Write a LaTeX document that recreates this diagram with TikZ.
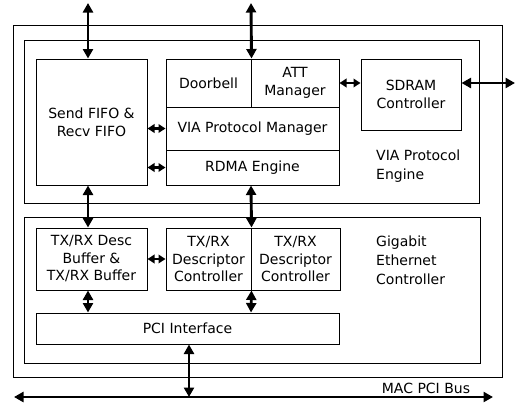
\documentclass[tikz,border=0pt]{standalone}
\usepackage{fontspec}
\setmainfont{DejaVu Sans}
\usetikzlibrary{arrows.meta,calc}
\tikzset{
 blk/.style={draw, line width=1pt, inner sep=0pt, align=center, font=\fontsize{14}{18}\selectfont},
 lbl/.style={inner sep=0pt, align=left, font=\fontsize{14}{19}\selectfont},
 bigarr/.style={line width=2.9pt, {Triangle[length=9.5pt,width=10pt]}-{Triangle[length=9.5pt,width=10pt]}},
 smallarr/.style={line width=2.6pt, {Triangle[length=7pt,width=8.5pt]}-{Triangle[length=7pt,width=8.5pt]}},
}
\begin{document}
\begin{tikzpicture}[x=1pt,y=-1pt]
\useasboundingbox (0,0) rectangle (516,405);
% containers
\node[blk, minimum width=489pt, minimum height=352pt] (outer) at (257.5,201) {};
\node[blk, minimum width=455pt, minimum height=163pt] (via) at (251.5,121.5) {};
\node[blk, minimum width=456pt, minimum height=146pt] (geth) at (252,290) {};
% VIA engine blocks
\node[blk, minimum width=111pt, minimum height=126pt] (fifo) at (91.5,122) {Send FIFO \&\\Recv FIFO};
\node[blk, minimum width=85pt, minimum height=48pt] (door) at (208.5,83) {Doorbell};
\node[blk, minimum width=88pt, minimum height=48pt] (att) at (295,83) {ATT\\Manager};
\node[blk, minimum width=173pt, minimum height=43pt] (vpm) at (252.5,128.5) {VIA Protocol Manager};
\node[blk, minimum width=173pt, minimum height=35pt] (rdma) at (252.5,167.5) {RDMA Engine};
\node[blk, minimum width=100pt, minimum height=71pt] (sdram) at (411,94.5) {SDRAM\\Controller};
\node[lbl, anchor=north west] (vialbl) at (376,150) {VIA Protocol\\Engine};
% Gigabit ethernet blocks
\node[blk, minimum width=111pt, minimum height=62pt, font=\fontsize{14}{17.5}\selectfont] (buf) at (91.5,259) {TX/RX Desc\\Buffer \&\\TX/RX Buffer};
\node[blk, minimum width=85pt, minimum height=62pt, font=\fontsize{14}{17.5}\selectfont] (desc1) at (208.5,259) {TX/RX\\Descriptor\\Controller};
\node[blk, minimum width=89pt, minimum height=62pt, font=\fontsize{14}{17.5}\selectfont] (desc2) at (295.5,259) {TX/RX\\Descriptor\\Controller};
\node[blk, minimum width=303pt, minimum height=31pt] (pci) at (187.5,328.5) {PCI Interface};
\node[lbl, anchor=north west] (gelbl) at (376,236) {Gigabit\\Ethernet\\Controller};
\node[lbl, anchor=center] (buslbl) at (426,388) {MAC PCI Bus};
% coordinates
\coordinate (c1) at (88,0);
\coordinate (c2) at (251,0);
\coordinate (t1) at (88,3);
\coordinate (t2) at (251,3);
\coordinate (ext) at (515,83);
\coordinate (busL) at (14,397);
\coordinate (busR) at (493,397);
\coordinate (busT) at (189,397);
% arrows
\draw[bigarr] (t1) -- (fifo.north -| c1);
\draw[bigarr] (t2) -- (door.north east);
\draw[smallarr] (fifo.east |- vpm.west) -- (vpm.west);
\draw[smallarr] (fifo.east |- rdma.west) -- (rdma.west);
\draw[smallarr] (att.east) -- (att.east -| sdram.west);
\draw[bigarr] (att.east -| sdram.east) -- (ext);
\draw[bigarr] (fifo.south -| c1) -- (buf.north -| c1);
\draw[bigarr] (rdma.south -| c2) -- (desc1.north east);
\draw[smallarr] (buf.east) -- (desc1.west);
\draw[bigarr] (buf.south -| c1) -- (pci.north -| c1);
\draw[bigarr] (desc1.south east) -- (pci.north -| c2);
\draw[bigarr] (pci.south -| busT) -- (busT);
\draw[bigarr] (busL) -- (busR);
\end{tikzpicture}
\end{document}
